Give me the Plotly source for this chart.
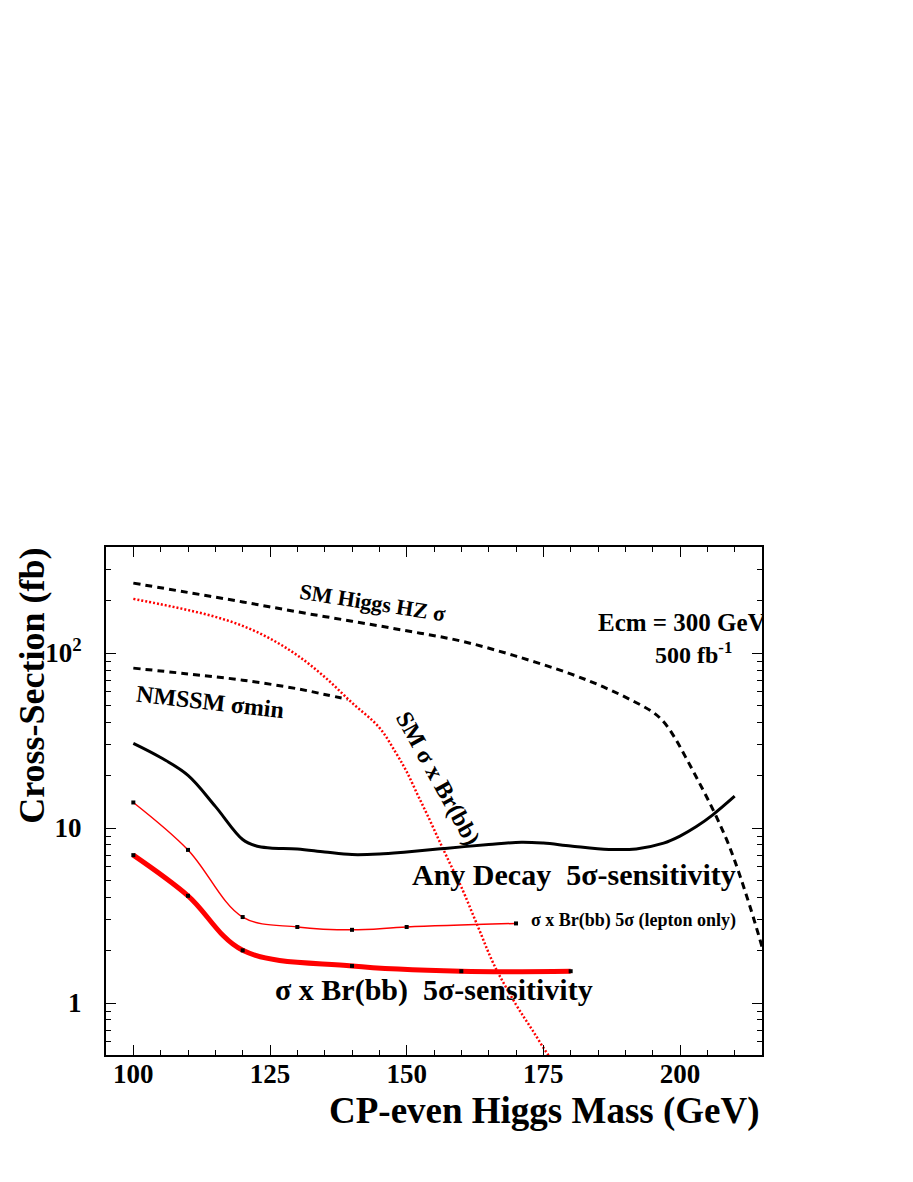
import plotly.graph_objects as go

# ---- data ----
mass_hz = [100, 110, 120, 130, 140, 150, 160, 170, 180, 186, 191, 195, 197, 199, 201, 203, 205, 207, 209, 211, 213, 215]
xsec_hz = [251, 222, 196, 172, 152, 134, 117, 96, 76, 64, 54, 46, 40.5, 33, 25.5, 19.5, 14.8, 11.0, 7.9, 5.3, 3.4, 2.1]

mass_nmssm = [100, 110, 120, 130, 135, 139.2]
xsec_nmssm = [82, 76, 70, 62.5, 58, 54.4]

mass_smbb = [100, 105, 110, 115, 120, 125, 130, 135, 140, 145, 148, 150, 152, 154, 156, 158, 160, 163, 166, 170, 173, 176, 178]
xsec_smbb = [204, 190, 176, 161, 143, 121, 97, 73, 52, 37.5, 27, 21, 15.5, 11.5, 8.4, 6.2, 4.6, 2.75, 1.65, 0.98, 0.70, 0.50, 0.42]

mass_any = [100, 105, 110, 115, 120, 122.5, 125, 130, 135, 140, 145, 150, 157, 165, 171, 175, 180, 187, 192, 197, 200, 203, 206, 210]
xsec_any = [30.5, 25.3, 20, 13.3, 8.6, 7.9, 7.7, 7.6, 7.3, 7.05, 7.1, 7.3, 7.65, 8.05, 8.3, 8.2, 7.9, 7.55, 7.6, 8.2, 9.0, 10.2, 11.9, 15.2]

mass_lep = [100, 110, 120, 130, 140, 150, 170]
xsec_lep = [14, 7.5, 3.1, 2.72, 2.62, 2.72, 2.85]

mass_bb = [100, 110, 120, 140, 160, 180]
xsec_bb = [7.0, 4.1, 2.0, 1.63, 1.52, 1.52]

x_ticks = [100, 125, 150, 175, 200]
y_ticks = [1, 10, 100]
y_ticktext = ["1", "10", "10<sup>2</sup>"]

FONT = "Liberation Serif"

fig = go.Figure()

fig.add_trace(go.Scatter(x=mass_hz, y=xsec_hz, mode="lines",
                         line=dict(color="black", width=3, dash="7px,5px", shape="spline")))
fig.add_trace(go.Scatter(x=mass_nmssm, y=xsec_nmssm, mode="lines",
                         line=dict(color="black", width=3, dash="7px,5px", shape="spline")))
fig.add_trace(go.Scatter(x=mass_smbb, y=xsec_smbb, mode="lines",
                         line=dict(color="red", width=2.5, dash="2px,2px", shape="spline")))
fig.add_trace(go.Scatter(x=mass_any, y=xsec_any, mode="lines",
                         line=dict(color="black", width=3, shape="spline")))
fig.add_trace(go.Scatter(x=mass_lep, y=xsec_lep, mode="lines+markers",
                         line=dict(color="red", width=1.5, shape="spline"),
                         marker=dict(color="black", size=4, symbol="square")))
fig.add_trace(go.Scatter(x=mass_bb, y=xsec_bb, mode="lines+markers",
                         line=dict(color="red", width=5, shape="spline"),
                         marker=dict(color="black", size=4, symbol="square")))

# Ecm text as clipped text trace (cut by the frame like in the reference)
fig.add_trace(go.Scatter(x=[185.0], y=[146], mode="text", text=["Ecm = 300 GeV"],
                         textposition="middle right", cliponaxis=True,
                         textfont=dict(family=FONT, size=25, color="black", weight="bold")))

minor_y = [m * 10 ** e for e in (-1, 0, 1, 2) for m in range(2, 10)]
minor_y = [v for v in minor_y if 0.5 <= v <= 400]

fig.update_xaxes(range=[95, 215], tickmode="array", tickvals=x_ticks,
                 ticks="inside", ticklen=10, tickwidth=1, tickcolor="black",
                 showline=True, linewidth=2, linecolor="black", mirror="ticks",
                 showgrid=False, zeroline=False,
                 minor=dict(ticks="inside", ticklen=5, dtick=5, tick0=100, tickcolor="black", showgrid=False),
                 tickfont=dict(family=FONT, size=27, color="black", weight="bold"),
                 ticklabelstandoff=-6)
fig.update_yaxes(type="log", range=[-0.297, 2.606], tickmode="array", tickvals=y_ticks, ticktext=y_ticktext,
                 ticks="inside", ticklen=10, tickwidth=1, tickcolor="black",
                 showline=True, linewidth=2, linecolor="black", mirror="ticks",
                 showgrid=False, zeroline=False,
                 minor=dict(ticks="inside", ticklen=5, tickmode="array", tickvals=minor_y, tickcolor="black", showgrid=False),
                 tickfont=dict(family=FONT, size=27, color="black", weight="bold"),
                 ticklabelstandoff=17)

def ann(text, x, y, size, angle=0, xanchor="center", yanchor="middle"):
    fig.add_annotation(text=text, x=x, y=y, xref="paper", yref="paper", showarrow=False,
                       textangle=angle, xanchor=xanchor, yanchor=yanchor,
                       font=dict(family=FONT, size=size, color="black", weight="bold"))

ann("SM Higgs HZ σ", 0.4055, 0.890, 22, angle=9)
ann("NMSSM σmin", 0.1585, 0.6955, 24, angle=6.5)
ann("SM σ x Br(bb)", 0.506, 0.545, 24, angle=61)
ann("Any Decay\u00a0\u00a05σ-sensitivity", 0.714, 0.356, 30)
ann("σ x Br(bb) 5σ (lepton only)", 0.804, 0.2638, 18)
ann("σ x Br(bb)\u00a0\u00a05σ-sensitivity", 0.500, 0.128, 30)
ann("500 fb<sup>-1</sup>", 0.895, 0.791, 24)
ann("CP-even Higgs Mass (GeV)", 1.0, -0.110, 37, xanchor="right")
ann("Cross-Section (fb)", -0.113, 0.7264, 36, angle=-90)

# page body adds an 8px margin, so the figure is 8px smaller and margins shifted
fig.update_layout(width=905, height=1174, margin=dict(l=98, r=151, t=539, b=127),
                  paper_bgcolor="white", plot_bgcolor="white", showlegend=False,
                  font=dict(family=FONT, color="black"))

fig.write_html("out.html")
